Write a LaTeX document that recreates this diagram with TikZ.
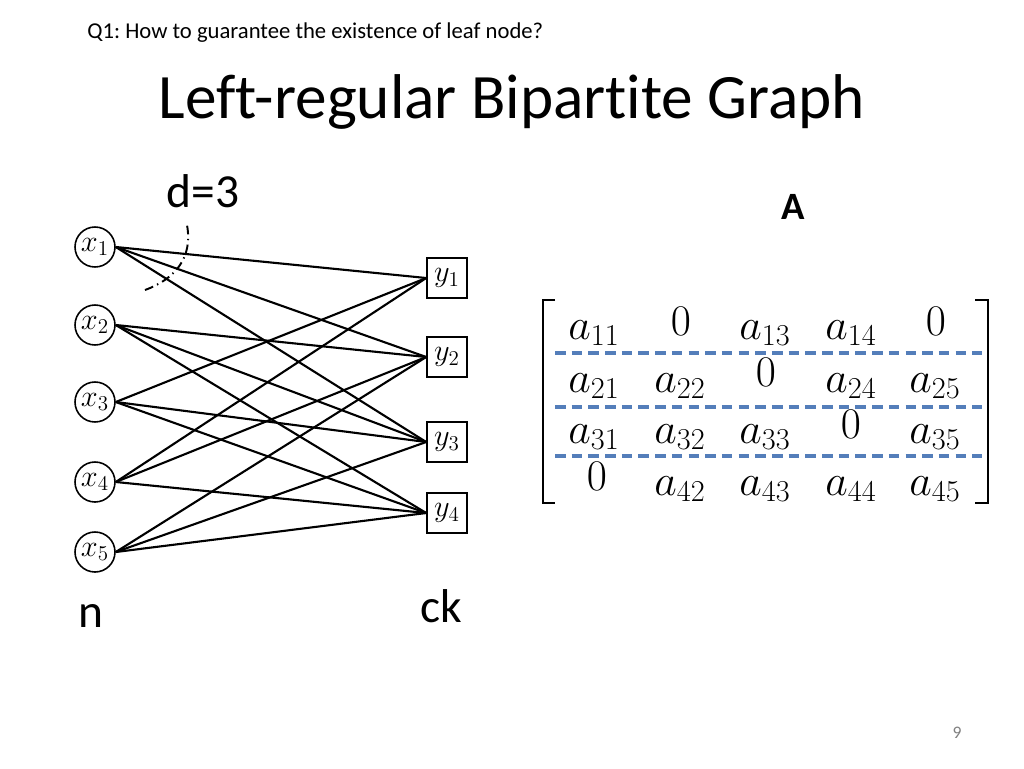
\documentclass[tikz,border=0pt]{standalone}
\usepackage{amsmath,amssymb}
\usepackage{fontspec}
\setmainfont[Ligatures=NoCommon]{Carlito}
\usepackage{tikz}
\frenchspacing
\definecolor{rowblue}{RGB}{84,126,186}
\tikzstyle{cn}=[shape=circle,draw,line width=0.9pt,minimum size=0.8cm,inner sep=0pt,font=\fontsize{18}{19}\selectfont]
\tikzstyle{sq}=[shape=rectangle,draw,line width=0.9pt,minimum size=0.8cm,inner sep=0pt,font=\fontsize{18}{19}\selectfont]
\tikzstyle{common}=[line width=1.2pt]
\tikzstyle{ent}=[anchor=base,inner sep=0pt,font=\fontsize{24}{26}\selectfont]
\tikzstyle{cut}=[rowblue,line width=1.8pt,dash pattern=on 6pt off 3.5pt]
\tikzstyle{big}=[font=\fontsize{27}{30}\selectfont]

\begin{document}
\begin{tikzpicture}[x=0.02cm,y=-0.02cm]
            \useasboundingbox[fill=white] (0,0) rectangle (1024,768);
            \node[anchor=base west,inner sep=0pt,font=\fontsize{12.9}{14}\selectfont] (Q) at (87,38) {Q1: How to guarantee the existence of leaf node?};
            \node[anchor=base,inner sep=0pt,font=\fontsize{36}{40}\selectfont] (T) at (512,118) {Left-regular Bipartite Graph};
            \node[big,anchor=base,inner sep=0pt] (D) at (203,207) {d=3};
            \node[anchor=base,inner sep=0pt,font=\fontsize{22}{24}\selectfont\bfseries] (M) at (793,219) {A};
            \node[big,anchor=base,inner sep=0pt] (N) at (91,627) {n};
            \node[big,anchor=base,inner sep=0pt] (CK) at (441,622) {ck};
            \node[anchor=base,inner sep=0pt,text=gray,font=\fontsize{10}{12}\selectfont] (P) at (957,738) {9};

            \node[cn] (x1) at (95, 247) {$x_1$};
            \node[cn] (x2) at (95, 325) {$x_2$};
            \node[cn] (x3) at (95, 402) {$x_3$};
            \node[cn] (x4) at (95, 482) {$x_4$};
            \node[cn] (x5) at (95, 552) {$x_5$};
            \node[sq] (y1) at (447, 278) {$y_1$};
            \node[sq] (y2) at (447, 357) {$y_2$};
            \node[sq] (y3) at (447, 442) {$y_3$};
            \node[sq] (y4) at (447, 513) {$y_4$};

            \draw[common] (x1.east) edge (y1.west) edge (y2.west) edge (y3.west);
            \draw[common] (x2.east) edge (y2.west) edge (y3.west) edge (y4.west);
            \draw[common] (x3.east) edge (y1.west) edge (y3.west) edge (y4.west);
            \draw[common] (x4.east) edge (y1.west) edge (y2.west) edge (y4.west);
            \draw[common] (x5.east) edge (y2.west) edge (y3.west) edge (y4.west);

            \draw[line width=1.1pt,dash pattern=on 5pt off 2.5pt on 0.8pt off 2.5pt] (145,290) .. controls (175,279) and (193,258) .. (187,225);

            \draw[line width=1.4pt] (555,300) -- (543,300) -- (543,503) -- (555,503);
            \draw[line width=1.4pt] (975,300) -- (988,300) -- (988,503) -- (975,503);

            \node[ent] (e11) at (594,339) {$a_{11}$};
            \node[ent] (e12) at (681,335) {$0$};
            \node[ent] (e13) at (765,339) {$a_{13}$};
            \node[ent] (e14) at (851,339) {$a_{14}$};
            \node[ent] (e15) at (936,335) {$0$};
            \node[ent] (e21) at (594,392) {$a_{21}$};
            \node[ent] (e22) at (680,392) {$a_{22}$};
            \node[ent] (e23) at (766,386) {$0$};
            \node[ent] (e24) at (851,392) {$a_{24}$};
            \node[ent] (e25) at (935,392) {$a_{25}$};
            \node[ent] (e31) at (594,443) {$a_{31}$};
            \node[ent] (e32) at (680,443) {$a_{32}$};
            \node[ent] (e33) at (765,443) {$a_{33}$};
            \node[ent] (e34) at (851,438) {$0$};
            \node[ent] (e35) at (935,443) {$a_{35}$};
            \node[ent] (e41) at (597,490) {$0$};
            \node[ent] (e42) at (680,495) {$a_{42}$};
            \node[ent] (e43) at (765,495) {$a_{43}$};
            \node[ent] (e44) at (851,495) {$a_{44}$};
            \node[ent] (e45) at (935,495) {$a_{45}$};

            \draw[cut] (555,353) -- (982,353);
            \draw[cut] (555,407) -- (982,407);
            \draw[cut] (555,456) -- (982,456);
        \end{tikzpicture}
\end{document}
